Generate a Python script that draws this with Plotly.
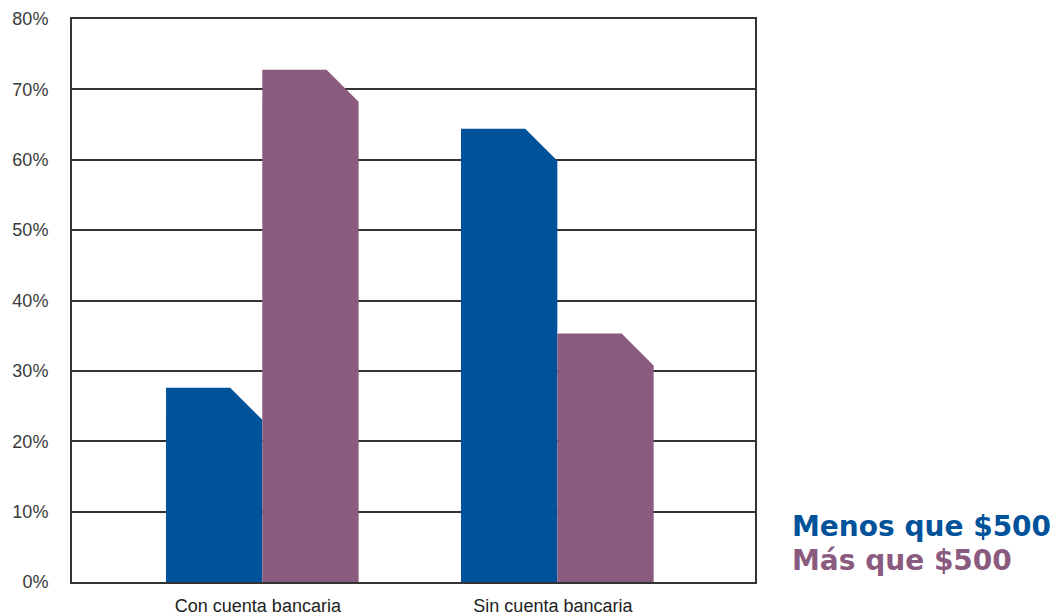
import plotly.graph_objects as go

categories = ["Con cuenta bancaria", "Sin cuenta bancaria"]
series_names = ["Menos que $500", "Más que $500"]
menos_500 = [27.6, 64.4]
mas_500 = [72.8, 35.3]
y_ticks = [0, 10, 20, 30, 40, 50, 60, 70, 80]
y_tick_labels = ["0%", "10%", "20%", "30%", "40%", "50%", "60%", "70%", "80%"]

colors = ["#00529B", "#8A5A7F"]
bar_w = 0.3265          # bar width in category units
cut_x = bar_w / 3       # chamfer width
cut_y = 4.55            # chamfer height in axis units

W, H = 1060, 616
l, r, t, b = 72, 305, 18.5, 34.3
pw, ph = W - l - r, H - t - b

fig = go.Figure()
for s, (name, vals) in enumerate(zip(series_names, [menos_500, mas_500])):
    for i, v in enumerate(vals):
        x0 = i - bar_w + s * bar_w
        x1 = x0 + bar_w
        xs = [x0, x0, x1 - cut_x, x1, x1, x0]
        ys = [0, v, v, v - cut_y, 0, 0]
        fig.add_trace(go.Scatter(
            x=xs, y=ys, mode="lines", fill="toself",
            fillcolor=colors[s], line=dict(width=0, color=colors[s]),
            name=name, showlegend=False, hoverinfo="skip"))

# legend as text (pixel baseline -> paper coords)
for s, name in enumerate(series_names):
    px, py_from_bottom = 790, H - 545 - s * 34
    fig.add_annotation(
        x=(px - l) / pw, y=(py_from_bottom - b) / ph, xref="paper", yref="paper",
        text=f"<b>{name}</b>", showarrow=False, xanchor="left", yanchor="bottom",
        font=dict(family="DejaVu Sans", size=28, color=colors[s]))

fig.update_layout(
    width=W, height=H,
    margin=dict(l=l, r=r, t=t, b=b, pad=0, autoexpand=False),
    paper_bgcolor="white", plot_bgcolor="white",
    showlegend=False,
    font=dict(family="Liberation Sans", size=18, color="#3a3a3a"),
)
fig.update_xaxes(
    range=[-0.645, 1.670], tickmode="array", tickvals=[-0.015, 0.985], ticktext=categories,
    showgrid=False, zeroline=False, showline=True, linecolor="#333", linewidth=2,
    mirror=True, ticks="", ticklabelstandoff=6, fixedrange=True, automargin=False,
    tickfont=dict(size=18, color="#222"))
fig.update_yaxes(
    range=[0, 80], tickmode="array", tickvals=y_ticks, ticktext=y_tick_labels,
    showgrid=True, gridcolor="#333", gridwidth=1.5, zeroline=False,
    showline=True, linecolor="#333", linewidth=2, mirror=True, ticks="",
    ticklabelstandoff=18, fixedrange=True, automargin=False)

fig.write_html("out.html")
